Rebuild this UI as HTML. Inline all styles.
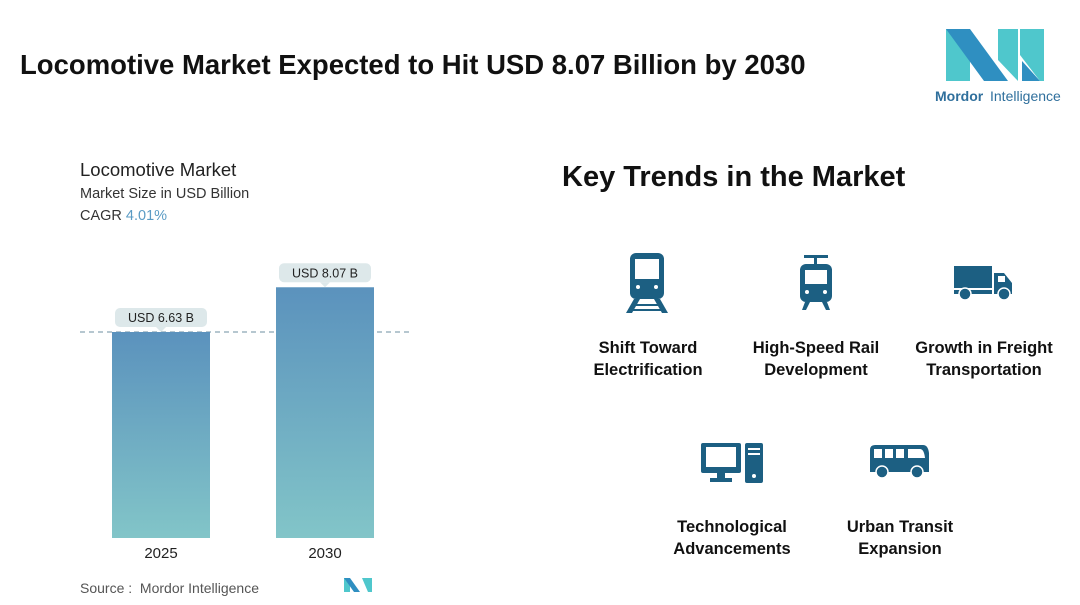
<!DOCTYPE html>
<html><head><meta charset="utf-8"><style>
body{margin:0;width:1080px;height:605px;background:#fff;font-family:"Liberation Sans",sans-serif;overflow:hidden;position:relative}
.abs{position:absolute}
.tl{font-weight:bold;font-size:16.5px;color:#111;text-align:center;line-height:22px;width:190px}
</style></head><body>
<div class="abs" style="left:20px;top:49px;font-size:27.5px;font-weight:bold;color:#111">Locomotive Market Expected to Hit USD 8.07 Billion by 2030</div>
<svg class="abs" style="left:930px;top:25px" width="140" height="85">
<polygon points="16,4 40,4 40,56 16,56" fill="#4fc7cc"/>
<polygon points="16,4 40,4 78,56 54,56" fill="#2f8fc1"/>
<polygon points="68,4 88,4 88,56 68,35" fill="#4fc7cc"/>
<polygon points="90,4 114,4 114,56 110,56 90,30" fill="#4fc7cc"/>
<polygon points="92,36 110,56 92,56" fill="#2f8fc1"/>
<text x="5" y="76" font-size="14" font-weight="bold" fill="#2f6f9c" font-family="Liberation Sans">Mordor</text>
<text x="60" y="76" font-size="14" fill="#2f6f9c" font-family="Liberation Sans">Intelligence</text>
</svg>
<div class="abs" style="left:80px;top:159px;font-size:18.5px;color:#222">Locomotive Market</div>
<div class="abs" style="left:80px;top:186px;font-size:14.5px;color:#333">Market Size in USD Billion</div>
<div class="abs" style="left:80px;top:208px;font-size:14.5px;color:#333">CAGR <span style="color:#5a9bc4">4.01%</span></div>
<svg id="chart" class="abs" style="left:0;top:0" width="540" height="605">
<defs><linearGradient id="g" x1="0" y1="0" x2="0" y2="1"><stop offset="0" stop-color="#5b92bd"/><stop offset="1" stop-color="#82c5c8"/></linearGradient></defs>
</svg>
<div class="abs" style="left:80px;top:580px;font-size:14px;color:#555">Source :&nbsp; Mordor Intelligence</div>
<svg class="abs" style="left:344px;top:578px" width="30" height="16"><polygon points="0,0 6,0 6,14 0,14" fill="#4fc7cc"/><polygon points="0,0 6,0 16,14 10,14" fill="#2f8fc1"/><polygon points="18,0 28,0 28,14 24,14" fill="#4fc7cc"/></svg>
<div class="abs" style="left:562px;top:161px;font-size:29px;font-weight:bold;color:#111">Key Trends in the Market</div>
<svg class="abs" style="left:626px;top:252px" width="44" height="62" fill="#1c5f82"><rect x="4" y="1" width="34" height="46" rx="6"/><rect x="9" y="7" width="24" height="20" fill="#fff"/><circle cx="12" cy="35" r="2" fill="#fff"/><circle cx="30" cy="35" r="2" fill="#fff"/><polygon points="8,47 14,47 6,61 0,61"/><polygon points="28,47 34,47 42,61 36,61"/><rect x="6" y="52" width="30" height="2"/><rect x="4" y="57" width="34" height="2"/></svg>
<svg class="abs" style="left:798px;top:255px" width="36" height="56" fill="#1c5f82"><rect x="6" y="0" width="24" height="3"/><rect x="16" y="3" width="3" height="6"/><rect x="2" y="9" width="32" height="38" rx="6"/><rect x="7" y="15" width="22" height="14" fill="#fff"/><circle cx="9" cy="37" r="2" fill="#fff"/><circle cx="27" cy="37" r="2" fill="#fff"/><polygon points="7,47 12,47 8,55 4,55"/><polygon points="24,47 29,47 32,55 28,55"/></svg>
<svg class="abs" style="left:953px;top:265px" width="62" height="36" fill="#1c5f82"><rect x="1" y="1" width="38" height="22"/><rect x="1" y="25" width="38" height="4"/><path d="M41 8h10l8 10v11H41z"/><rect x="45" y="11" width="7" height="6" fill="#fff"/><circle cx="12" cy="29" r="6" stroke="#fff" stroke-width="1.5"/><circle cx="51" cy="29" r="6" stroke="#fff" stroke-width="1.5"/></svg>
<svg class="abs" style="left:700px;top:442px" width="66" height="42" fill="#1c5f82"><rect x="1" y="1" width="40" height="30" rx="2"/><rect x="6" y="5" width="30" height="20" fill="#fff"/><rect x="17" y="31" width="8" height="6"/><rect x="10" y="36" width="22" height="4"/><rect x="45" y="1" width="18" height="40" rx="2"/><rect x="48" y="6" width="12" height="2" fill="#fff"/><rect x="48" y="11" width="12" height="2" fill="#fff"/><circle cx="54" cy="34" r="2" fill="#fff"/></svg>
<svg class="abs" style="left:869px;top:444px" width="62" height="36" fill="#1c5f82"><path d="M1 6q0-5 5-5h48q5 0 6 8v19H1z"/><rect x="5" y="5" width="8" height="9" fill="#fff"/><rect x="16" y="5" width="8" height="9" fill="#fff"/><rect x="27" y="5" width="8" height="9" fill="#fff"/><path d="M39 5h12q4 0 5 9H39z" fill="#fff"/><circle cx="13" cy="28" r="6" stroke="#fff" stroke-width="1.5"/><circle cx="48" cy="28" r="6" stroke="#fff" stroke-width="1.5"/></svg>
<div class="abs tl" style="left:553px;top:337px">Shift Toward<br>Electrification</div>
<div class="abs tl" style="left:721px;top:337px">High-Speed Rail<br>Development</div>
<div class="abs tl" style="left:889px;top:337px">Growth in Freight<br>Transportation</div>
<div class="abs tl" style="left:637px;top:516px">Technological<br>Advancements</div>
<div class="abs tl" style="left:805px;top:516px">Urban Transit<br>Expansion</div>
<script>
const categories=["2025","2030"];
const values=[6.63,8.07];
const valueLabels=["USD 6.63 B","USD 8.07 B"];
const ns="http://www.w3.org/2000/svg";
const svg=document.getElementById('chart');
const base=538, scale=31.07;
const y=v=>base-v*scale;
const xs=i=>112+i*164;
const bw=98;
function mk(t,a){const e=document.createElementNS(ns,t);for(const k in a)e.setAttribute(k,a[k]);svg.appendChild(e);return e;}
const dl=mk('line',{x1:80,x2:410,y1:y(values[0]),y2:y(values[0]),stroke:'#6c8fa0','stroke-dasharray':'5,4','stroke-width':1});


values.forEach((v,i)=>{
 const r=mk('rect',{x:xs(i),y:y(v),width:bw,height:base-y(v),fill:'url(#g)'});
 
 
 const cx=xs(i)+bw/2, ty=y(v)-24;
 const b=mk('rect',{x:cx-46,y:ty,width:92,height:19,rx:5,fill:'#dde8ea'});
 
 
 mk('polygon',{points:`${cx-5},${ty+19} ${cx+5},${ty+19} ${cx},${ty+24}`,fill:'#dde8ea'});
 const t=mk('text',{x:cx,y:ty+14,'text-anchor':'middle','font-size':12.5,fill:'#222','font-family':'Liberation Sans'});
 t.textContent=valueLabels[i];
 
 
 const c=mk('text',{x:cx,y:558,'text-anchor':'middle','font-size':15,fill:'#222','font-family':'Liberation Sans'});
 c.textContent=categories[i];
 
 
});
</script>
</body></html>
